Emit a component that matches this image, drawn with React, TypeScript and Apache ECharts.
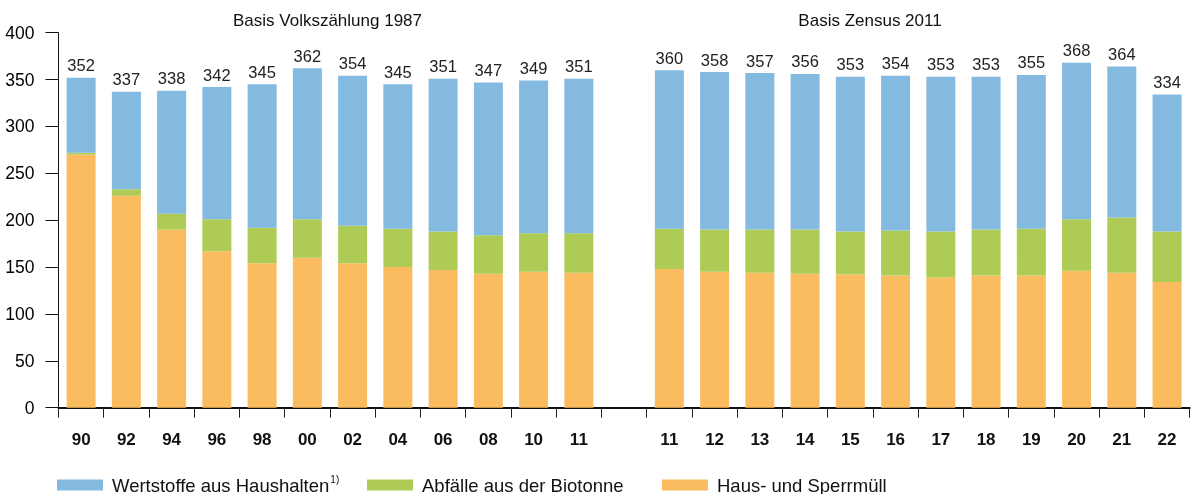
import React, { useEffect, useRef } from "react";
import * as echarts from "echarts";

const categories = ["90", "92", "94", "96", "98", "00", "02", "04", "06", "08", "10", "11", "", "11", "12", "13", "14", "15", "16", "17", "18", "19", "20", "21", "22"];
const hausSperrmuell = [270, 226, 190, 167, 154, 160, 154, 150, 147, 143, 145, 144, "-", 148, 145, 144, 143, 142, 141, 139, 141, 141, 146, 144, 134];
const biotonne = [2, 7, 17, 34, 38, 41, 40, 41, 41, 41, 41, 42, "-", 43, 45, 46, 47, 46, 48, 49, 49, 50, 55, 59, 54];
const wertstoffe = [80, 104, 131, 141, 153, 161, 160, 154, 163, 163, 163, 165, "-", 169, 168, 167, 166, 165, 165, 165, 163, 164, 167, 161, 146];
const totals = [352, 337, 338, 342, 345, 362, 354, 345, 351, 347, 349, 351, "", 360, 358, 357, 356, 353, 354, 353, 353, 355, 368, 364, 334];
const seriesNames = ["Wertstoffe aus Haushalten", "Abfälle aus der Biotonne", "Haus- und Sperrmüll"];
const titles = ["Basis Volkszählung 1987", "Basis Zensus 2011"];

const FONT = "'Liberation Sans', Arial, sans-serif";
const BLUE = "#84BAE0";
const GREEN = "#AECB55";
const ORANGE = "#FBBC5F";

export default function App() {
  const ref = useRef<HTMLDivElement>(null);
  useEffect(() => {
    if (!ref.current) return;
    const chart = echarts.init(ref.current, null, { renderer: "svg" });
    const legendBase = {
      orient: "horizontal",
      top: 474,
      padding: 0,
      itemWidth: 46,
      itemHeight: 11,
      icon: "rect",
      textStyle: { fontFamily: FONT, fontSize: 18.5, color: "#111", lineHeight: 22, padding: [0, 0, 0, 4] },
    };
    chart.setOption({
      animation: false,
      graphic: [
        { type: "text", x: 327.5, y: 20, style: { text: titles[0], fontFamily: FONT, fontSize: 17, fill: "#111", textAlign: "center", textVerticalAlign: "middle" } },
        { type: "text", x: 870, y: 20, style: { text: titles[1], fontFamily: FONT, fontSize: 17, fill: "#111", textAlign: "center", textVerticalAlign: "middle" } },
      ],
      legend: [
        {
          ...legendBase,
          left: 57,
          data: [seriesNames[0]],
          formatter: (n: string) => n + "{sup|1)}",
          textStyle: {
            ...legendBase.textStyle,
            rich: { sup: { fontFamily: FONT, fontSize: 10, lineHeight: 22, verticalAlign: "top", padding: [0, 0, 8, 1], color: "#111" } },
          },
        },
        { ...legendBase, left: 367, data: [seriesNames[1]] },
        { ...legendBase, left: 662, data: [seriesNames[2]] },
      ],
      grid: { left: 58.5, right: 2.3, top: 32.7, bottom: 86.3, containLabel: false },
      xAxis: {
        type: "category",
        data: categories,
        boundaryGap: true,
        axisLine: { lineStyle: { color: "#111", width: 2 } },
        axisTick: { show: true, interval: 0, length: 10, lineStyle: { color: "#222", width: 1 } },
        axisLabel: { interval: 0, margin: 23, fontFamily: FONT, fontSize: 17, fontWeight: "bold", color: "#111" },
        splitLine: { show: false },
      },
      yAxis: {
        type: "value",
        min: 0,
        max: 400,
        interval: 50,
        axisLine: { show: true, lineStyle: { color: "#111", width: 1 } },
        axisTick: { show: true, length: 13, lineStyle: { color: "#111", width: 1 } },
        axisLabel: { margin: 24, fontFamily: FONT, fontSize: 17.5, color: "#000" },
        splitLine: { show: false },
      },
      series: [
        { name: seriesNames[2], type: "bar", stack: "a", data: hausSperrmuell, barWidth: 29, itemStyle: { color: ORANGE } },
        { name: seriesNames[1], type: "bar", stack: "a", data: biotonne, barWidth: 29, itemStyle: { color: GREEN } },
        {
          name: seriesNames[0],
          type: "bar",
          stack: "a",
          data: wertstoffe,
          barWidth: 29,
          itemStyle: { color: BLUE },
          label: {
            show: true,
            position: "top",
            distance: 4,
            fontFamily: FONT,
            fontSize: 16.5,
            color: "#222",
            formatter: (p: any) => String(totals[p.dataIndex]),
          },
        },
      ],
    });
    return () => chart.dispose();
  }, []);
  return <div ref={ref} style={{ position: "fixed", left: 0, top: 0, width: 1192, height: 494 }} />;
}
